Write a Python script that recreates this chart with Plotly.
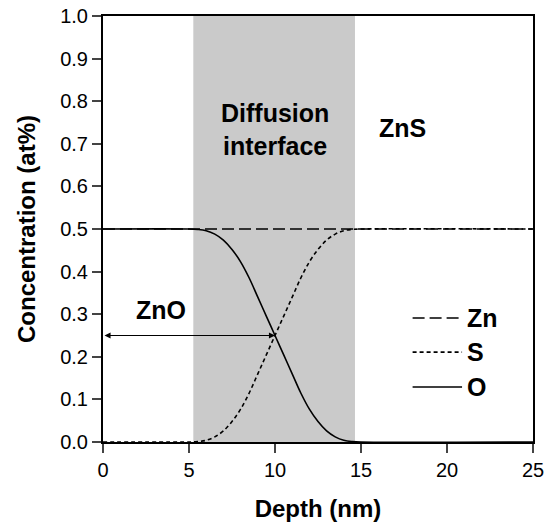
import plotly.graph_objects as go

# Depth profile across the ZnO/ZnS diffusion interface
depth = [0, 5.0, 5.5, 6.0, 6.5, 7.0, 7.5, 8.0, 8.5, 9.0, 9.5, 10.0,
         10.5, 11.0, 11.5, 12.0, 12.5, 13.0, 13.5, 14.0, 14.5, 15.0, 25]
conc_zn = [0.5] * len(depth)
conc_o = [0.5, 0.5, 0.499, 0.496, 0.488, 0.474, 0.452, 0.423, 0.385, 0.340, 0.295, 0.25,
          0.205, 0.160, 0.115, 0.077, 0.048, 0.026, 0.012, 0.004, 0.001, 0.0, 0.0]
conc_s = [0.0, 0.0, 0.001, 0.004, 0.012, 0.026, 0.048, 0.077, 0.115, 0.160, 0.205, 0.25,
          0.295, 0.340, 0.385, 0.423, 0.452, 0.474, 0.488, 0.496, 0.499, 0.5, 0.5]

interface_range = [5.25, 14.65]
x_ticks = [0, 5, 10, 15, 20, 25]
y_ticks = [round(0.1 * i, 1) for i in range(11)]

FONT = "Liberation Sans, Arial, Helvetica, sans-serif"
ZN_DASH = "12px,5px"
S_DASH = "4px,3px"
LABEL_SIZE = 25
LINE_W = 1.6

fig = go.Figure()

fig.add_trace(go.Scatter(x=depth, y=conc_zn, mode="lines", name="Zn",
                         line=dict(color="black", width=LINE_W, dash=ZN_DASH)))
fig.add_trace(go.Scatter(x=depth, y=conc_s, mode="lines", name="S", line_shape="spline",
                         line=dict(color="black", width=LINE_W, dash=S_DASH)))
fig.add_trace(go.Scatter(x=depth, y=conc_o, mode="lines", name="O", line_shape="spline",
                         line=dict(color="black", width=LINE_W)))

shapes = [
    dict(type="rect", xref="x", yref="y", x0=interface_range[0], x1=interface_range[1],
         y0=0, y1=1, fillcolor="#cacaca", line_width=0, layer="below"),
]

# Hand-drawn legend in the lower right of the plot
legend_items = [("Zn", ZN_DASH, 0.291), ("S", S_DASH, 0.211), ("O", "solid", 0.129)]
annotations = []
for label, dash, ypos in legend_items:
    shapes.append(dict(type="line", xref="paper", yref="paper", x0=0.72, x1=0.835,
                       y0=ypos, y1=ypos, line=dict(color="black", width=LINE_W, dash=dash)))
    annotations.append(dict(xref="paper", yref="paper", x=0.843, y=ypos, text="<b>%s</b>" % label,
                            showarrow=False, xanchor="left", yanchor="middle",
                            font=dict(family=FONT, size=LABEL_SIZE, color="black")))

annotations += [
    dict(x=10, y=0.733, xref="x", yref="y", text="<b>Diffusion<br>interface</b>",
         showarrow=False, font=dict(family=FONT, size=LABEL_SIZE, color="black"), align="center"),
    dict(x=17.4, y=0.737, xref="x", yref="y", text="<b>ZnS</b>",
         showarrow=False, font=dict(family=FONT, size=LABEL_SIZE, color="black")),
    dict(x=3.4, y=0.31, xref="x", yref="y", text="<b>ZnO</b>",
         showarrow=False, font=dict(family=FONT, size=LABEL_SIZE, color="black")),
    # double-headed arrow marking the ZnO extent
    dict(x=10, y=0.25, ax=0, ay=0.25, xref="x", yref="y", axref="x", ayref="y",
         text="", showarrow=True, arrowhead=2, startarrowhead=2, arrowside="end+start",
         arrowsize=1.1, arrowwidth=1.1, arrowcolor="black", standoff=0, startstandoff=0),
]

fig.update_layout(
    width=545, height=528,
    margin=dict(l=103, r=12, t=16, b=86),
    paper_bgcolor="white", plot_bgcolor="white",
    showlegend=False,
    shapes=shapes,
    annotations=annotations,
    font=dict(family=FONT, color="black"),
    xaxis=dict(range=[0, 25], tickvals=x_ticks, ticks="outside", ticklen=9, tickwidth=1.5,
               showline=True, linecolor="black", linewidth=2, mirror=True, showgrid=False,
               zeroline=False, tickfont=dict(size=20), automargin=False,
               title=dict(text="<b>Depth (nm)</b>", font=dict(size=24), standoff=20)),
    yaxis=dict(range=[0, 1], tickvals=y_ticks, tickformat=".1f", ticks="outside", ticklen=9,
               tickwidth=1.5, showline=True, linecolor="black", linewidth=2, mirror=True,
               showgrid=False, zeroline=False, tickfont=dict(size=20), automargin=False,
               title=dict(text="<b>Concentration (at%)</b>", font=dict(size=24), standoff=18)),
)

fig.write_html("out.html")
